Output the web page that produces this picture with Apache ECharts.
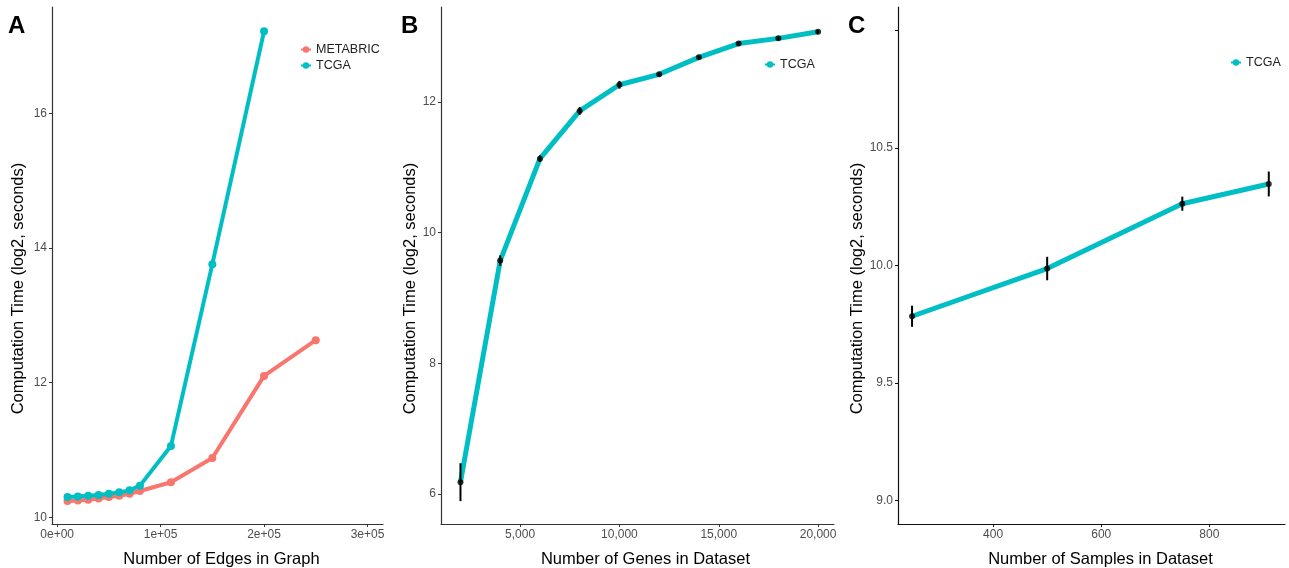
<!DOCTYPE html>
<html>
<head>
<meta charset="utf-8">
<script src="https://cdn.jsdelivr.net/npm/echarts@6/dist/echarts.min.js"></script>
<style>
  html, body { margin: 0; padding: 0; background: #fff; }
  #chart { width: 1289px; height: 568px; }
</style>
</head>
<body>
<div id="chart"></div>
<script>
// panel A - edges in graph
var edgesTcga = [10000, 20000, 30000, 40000, 50000, 60000, 70000, 80000, 110000, 150000, 200000];
var timeTcga = [10.30, 10.31, 10.32, 10.33, 10.35, 10.37, 10.40, 10.47, 11.06, 13.76, 17.22];
var edgesMeta = [10000, 20000, 30000, 40000, 50000, 60000, 70000, 80000, 110000, 150000, 200000, 250000];
var timeMeta = [10.24, 10.25, 10.26, 10.28, 10.30, 10.32, 10.35, 10.39, 10.52, 10.88, 12.10, 12.63];
var aTicksX = [0, 100000, 200000, 300000];
var aTicksY = [10, 12, 14, 16];

// panel B - genes in dataset
var genes = [2000, 4000, 6000, 8000, 10000, 12000, 14000, 16000, 18000, 20000];
var geneTime = [6.18, 9.57, 11.13, 11.86, 12.26, 12.42, 12.68, 12.89, 12.97, 13.07];
var geneErr = [0.29, 0.08, 0.05, 0.06, 0.06, 0.02, 0.02, 0.02, 0.02, 0.02];
var bTicksX = [5000, 10000, 15000, 20000];
var bTicksY = [6, 8, 10, 12];

// panel C - samples in dataset
var samples = [250, 500, 750, 910];
var sampleTime = [9.784, 9.987, 10.263, 10.347];
var sampleErr = [0.045, 0.05, 0.03, 0.053];
var cTicksX = [400, 600, 800];
var cTicksY = [9.0, 9.5, 10.0, 10.5, 11.0];
var cLabelsY = [9.0, 9.5, 10.0, 10.5];

var RED = '#F8766D', CYAN = '#00BFC4';
var FONT = '"Liberation Sans", Arial, sans-serif';

function pairs(xs, ys) {
    return xs.map(function (x, i) { return [x, ys[i]]; });
}
function bars(xs, ys, es) {
    return xs.map(function (x, i) { return [x, ys[i] - es[i], ys[i] + es[i]]; });
}
function comma(v) {
    return String(v).replace(/\B(?=(\d{3})+(?!\d))/g, ',');
}
function sci(v) {
    if (v === 0) return '0e+00';
    return (v / 100000) + 'e+05';
}

// shift: push the axis title right (px)
function xAxis(idx, min, max, ticks, fmt, name, color, shift) {
    return {
        type: 'value', gridIndex: idx, min: min, max: max,
        name: name, nameLocation: 'middle', nameGap: 27,
        nameTextStyle: { color: '#000', fontSize: 16.5, fontFamily: FONT, padding: [0, 0, 0, shift * 2] },
        axisLine: { show: true, onZero: false, lineStyle: { color: color, width: 1.2 } },
        axisTick: { show: true, length: 3, customValues: ticks, lineStyle: { color: color } },
        axisLabel: { customValues: ticks, formatter: fmt, color: '#4d4d4d', fontSize: 12, fontFamily: FONT, margin: 5 },
        splitLine: { show: false }
    };
}
// y title sits a bit below the middle in the original, padding pushes it down
function yAxis(idx, min, max, ticks, labels, gap, fmt, color) {
    return {
        type: 'value', gridIndex: idx, min: min, max: max,
        name: 'Computation Time (log2, seconds)', nameLocation: 'middle', nameGap: gap,
        nameTextStyle: { color: '#000', fontSize: 16.5, fontFamily: FONT, padding: [0, 46, 0, 0] },
        axisLine: { show: true, onZero: false, lineStyle: { color: color, width: 1.2 } },
        axisTick: { show: true, length: 3, customValues: ticks, lineStyle: { color: color } },
        axisLabel: { customValues: labels, formatter: fmt, color: '#4d4d4d', fontSize: 12, fontFamily: FONT, margin: 5 },
        splitLine: { show: false }
    };
}
function errorSeries(idx, data) {
    return {
        type: 'custom', xAxisIndex: idx, yAxisIndex: idx, z: 5, silent: true,
        data: data,
        renderItem: function (params, api) {
            var a = api.coord([api.value(0), api.value(1)]);
            var b = api.coord([api.value(0), api.value(2)]);
            return {
                type: 'line',
                shape: { x1: a[0], y1: a[1], x2: b[0], y2: b[1] },
                style: { stroke: '#000', lineWidth: 2 }
            };
        }
    };
}

var chart = echarts.init(document.getElementById('chart'));
chart.setOption({
    backgroundColor: '#fff',
    animation: false,
    textStyle: { fontFamily: FONT },
    title: [
        { text: 'A', left: 3, top: 9, textStyle: { fontSize: 24, fontWeight: 'bold', color: '#000' } },
        { text: 'B', left: 396, top: 9, textStyle: { fontSize: 24, fontWeight: 'bold', color: '#000' } },
        { text: 'C', left: 843, top: 9, textStyle: { fontSize: 24, fontWeight: 'bold', color: '#000' } }
    ],
    legend: [
        { data: ['METABRIC', 'TCGA'], orient: 'vertical', left: 295, top: 38, itemWidth: 10, itemHeight: 8, itemGap: 3,
          textStyle: { fontSize: 12.5, color: '#222' } },
        { data: ['TCGA'], orient: 'vertical', left: 759, top: 53, itemWidth: 10, itemHeight: 8,
          textStyle: { fontSize: 12.5, color: '#222' } },
        { data: ['TCGA'], orient: 'vertical', left: 1225, top: 51, itemWidth: 10, itemHeight: 8,
          textStyle: { fontSize: 12.5, color: '#222' } }
    ],
    grid: [
        { left: 52, top: 7, width: 331, height: 517, outerBoundsMode: 'none' },
        { left: 441, top: 7, width: 393, height: 517, outerBoundsMode: 'none' },
        { left: 898, top: 7, width: 387, height: 517, outerBoundsMode: 'none' }
    ],
    xAxis: [
        xAxis(0, -5000, 315000, aTicksX, sci, 'Number of Edges in Graph', '#333', 4),
        xAxis(1, 1020, 20800, bTicksX, comma, 'Number of Genes in Dataset', '#333', 8),
        xAxis(2, 224, 940, cTicksX, null, 'Number of Samples in Dataset', '#111', 9)
    ],
    yAxis: [
        yAxis(0, 9.9, 17.58, aTicksY, aTicksY, 25, null, '#333'),
        yAxis(1, 5.54, 13.45, bTicksY, bTicksY, 22, null, '#333'),
        yAxis(2, 8.9, 11.1, cTicksY, cLabelsY, 32, function (v) { return v.toFixed(1); }, '#111')
    ],
    series: [
        { name: 'METABRIC', type: 'line', xAxisIndex: 0, yAxisIndex: 0, data: pairs(edgesMeta, timeMeta),
          color: RED, lineStyle: { width: 4 }, symbol: 'circle', symbolSize: 8, itemStyle: { color: RED } },
        { name: 'TCGA', type: 'line', xAxisIndex: 0, yAxisIndex: 0, data: pairs(edgesTcga, timeTcga),
          color: CYAN, lineStyle: { width: 4 }, symbol: 'circle', symbolSize: 8, itemStyle: { color: CYAN } },

        { name: 'TCGA', type: 'line', xAxisIndex: 1, yAxisIndex: 1, data: pairs(genes, geneTime),
          color: CYAN, lineStyle: { width: 5 }, symbol: 'circle', symbolSize: 7, showSymbol: false, itemStyle: { color: CYAN } },
        errorSeries(1, bars(genes, geneTime, geneErr)),
        { name: 'meanB', type: 'scatter', xAxisIndex: 1, yAxisIndex: 1, data: pairs(genes, geneTime),
          symbolSize: 6, itemStyle: { color: '#000' }, z: 6 },

        { name: 'TCGA', type: 'line', xAxisIndex: 2, yAxisIndex: 2, data: pairs(samples, sampleTime),
          color: CYAN, lineStyle: { width: 5 }, symbol: 'circle', symbolSize: 7, showSymbol: false, itemStyle: { color: CYAN } },
        errorSeries(2, bars(samples, sampleTime, sampleErr)),
        { name: 'meanC', type: 'scatter', xAxisIndex: 2, yAxisIndex: 2, data: pairs(samples, sampleTime),
          symbolSize: 6, itemStyle: { color: '#000' }, z: 6 }
    ]
});
</script>
</body>
</html>
